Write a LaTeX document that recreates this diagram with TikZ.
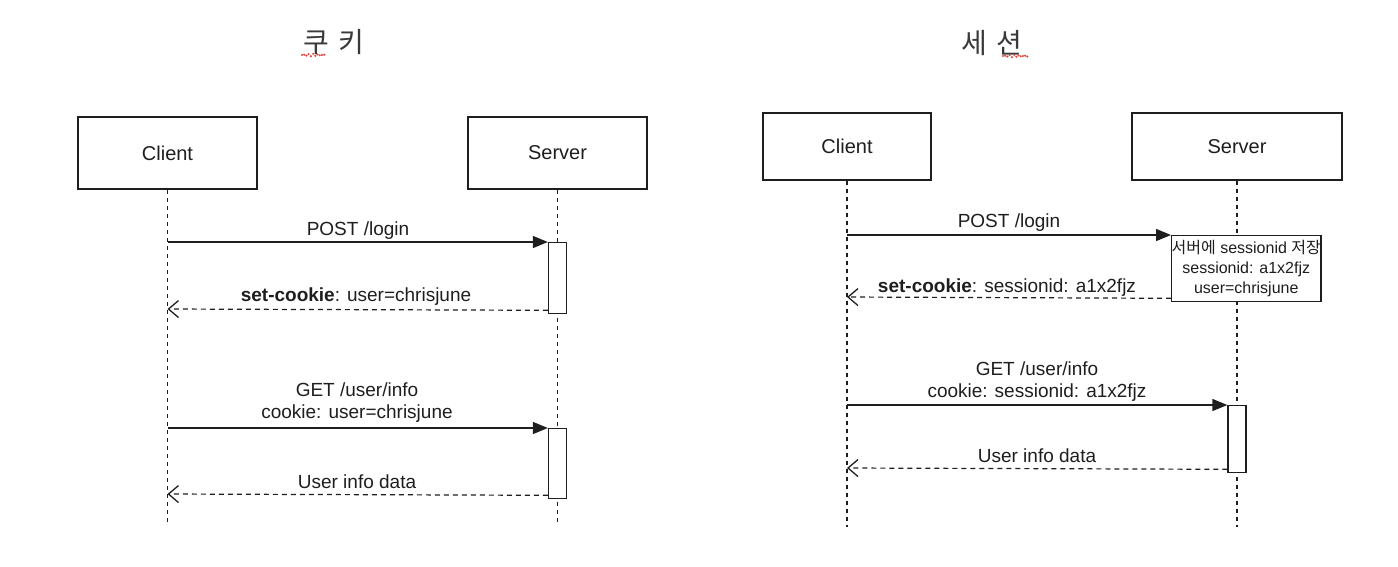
\documentclass[tikz,border=0pt]{standalone}
\usepackage{fontspec}
\setmainfont{Liberation Sans}
\newfontfamily\kr{Noto Sans CJK KR}
\usetikzlibrary{arrows.meta,decorations.pathmorphing}
\definecolor{ink}{HTML}{1E1E1E}
\definecolor{titlegray}{HTML}{3A3A3A}
\definecolor{squig}{HTML}{E0443C}
\begin{document}
\begin{tikzpicture}[x=1pt,y=-1pt,
  actor/.style={draw=ink, line width=1.4pt, fill=white, minimum height=72pt, inner sep=0pt, text=ink, font=\fontsize{20}{24}\selectfont},
  life/.style={draw=ink, line width=1.2pt, dash pattern=on 4pt off 4pt},
  actbox/.style={draw=ink, line width=1.3pt, fill=white, minimum width=18pt, inner sep=0pt},
  msg/.style={draw=ink, line width=1.4pt, -{Triangle[length=15pt,width=12pt]}},
  ret/.style={draw=ink, line width=1.2pt, dash pattern=on 5pt off 4pt, -{Straight Barb[length=10pt,width=17pt,line width=1.3pt]}},
  lbl/.style={font=\fontsize{19}{22}\selectfont, text=ink, anchor=base, inner sep=0pt},
  ttl/.style={font=\kr\fontsize{28}{30}\selectfont, text=titlegray, inner sep=0pt},
  squiggle/.style={draw=squig, line width=2.4pt, line cap=round, dash pattern=on 0pt off 3.2pt, decorate, decoration={zigzag, amplitude=1.3pt, segment length=5pt}}
]
\useasboundingbox (0,0) rectangle (1398,566);

% ---------------- titles ----------------
\node[ttl] (t1) at (334,42) {쿠\hspace{9pt}키};
\node[ttl] (t2) at (992,43) {세\hspace{9pt}션};
\draw[squiggle] (302,55) -- (326,55);
\draw[squiggle] (1003,56) -- (1028,56);

% ---------------- left: cookie ----------------
\node[actor, minimum width=179pt] (lc) at (167.5,153) {Client};
\node[actor, minimum width=179pt] (ls) at (557.5,153) {Server};
\coordinate (lcend) at (167.5,522);
\coordinate (lsend) at (557.5,522);
\draw[life] (lc.south) -- (lcend);
\draw[life] (ls.south) -- (lsend);

\node[actbox, minimum height=71pt, anchor=north] (la1) at (557.5,242) {};
\node[actbox, minimum height=70pt, anchor=north] (la2) at (557.5,428) {};

\coordinate (lc1) at (167.5,242);
\coordinate (lc2) at (167.5,309);
\coordinate (lc3) at (167.5,428);
\coordinate (lc4) at (167.5,494);

\draw[msg] (lc1) -- (la1.north west);
\draw[ret] ([yshift=4pt]la1.south west) -- (lc2);
\draw[msg] (lc3) -- (la2.north west);
\draw[ret] ([yshift=4pt]la2.south west) -- (lc4);

\node[lbl] (l1) at (358,235) {POST /login};
\node[lbl] (l2) at (356,301) {\textbf{set-cookie}: user=chrisjune};
\node[lbl] (l3) at (357,396) {GET /user/info};
\node[lbl] (l4) at (357,418) {cookie: user=chrisjune};
\node[lbl] (l5) at (357,488) {User info data};

% ---------------- right: session ----------------
\node[actor, minimum width=168pt, minimum height=67pt] (rc) at (847,146.5) {Client};
\node[actor, minimum width=210pt, minimum height=67pt] (rs) at (1237,146.5) {Server};
\coordinate (rcend) at (847,527);
\coordinate (rsend) at (1237,527);
\draw[life] (rc.south) -- (rcend);
\draw[life] (rs.south) -- (rsend);

\node[draw=ink, line width=1.3pt, fill=white, minimum width=148pt, minimum height=66pt, anchor=north west, align=center, inner sep=0pt, text=ink, font=\fontsize{16}{20}\selectfont] (note) at (1171,235)
  {{\kr 서버에} sessionid {\kr 저장}\\sessionid: a1x2fjz\\user=chrisjune};
\node[actbox, minimum height=67pt, anchor=north] (ra2) at (1237,405) {};

\coordinate (rc1) at (847,235);
\coordinate (rc2) at (847,297);
\coordinate (rc3) at (847,405);
\coordinate (rc4) at (847,468);

\draw[msg] (rc1) -- (note.north west);
\draw[ret] ([yshift=4pt]note.south west) -- (rc2);
\draw[msg] (rc3) -- (ra2.north west);
\draw[ret] ([yshift=4pt]ra2.south west) -- (rc4);

\node[lbl] (r1) at (1009,227) {POST /login};
\node[lbl] (r2) at (1007,292) {\textbf{set-cookie}: sessionid: a1x2fjz};
\node[lbl] (r3) at (1037,375) {GET /user/info};
\node[lbl] (r4) at (1037,397) {cookie: sessionid: a1x2fjz};
\node[lbl] (r5) at (1037,462) {User info data};
\end{tikzpicture}
\end{document}
